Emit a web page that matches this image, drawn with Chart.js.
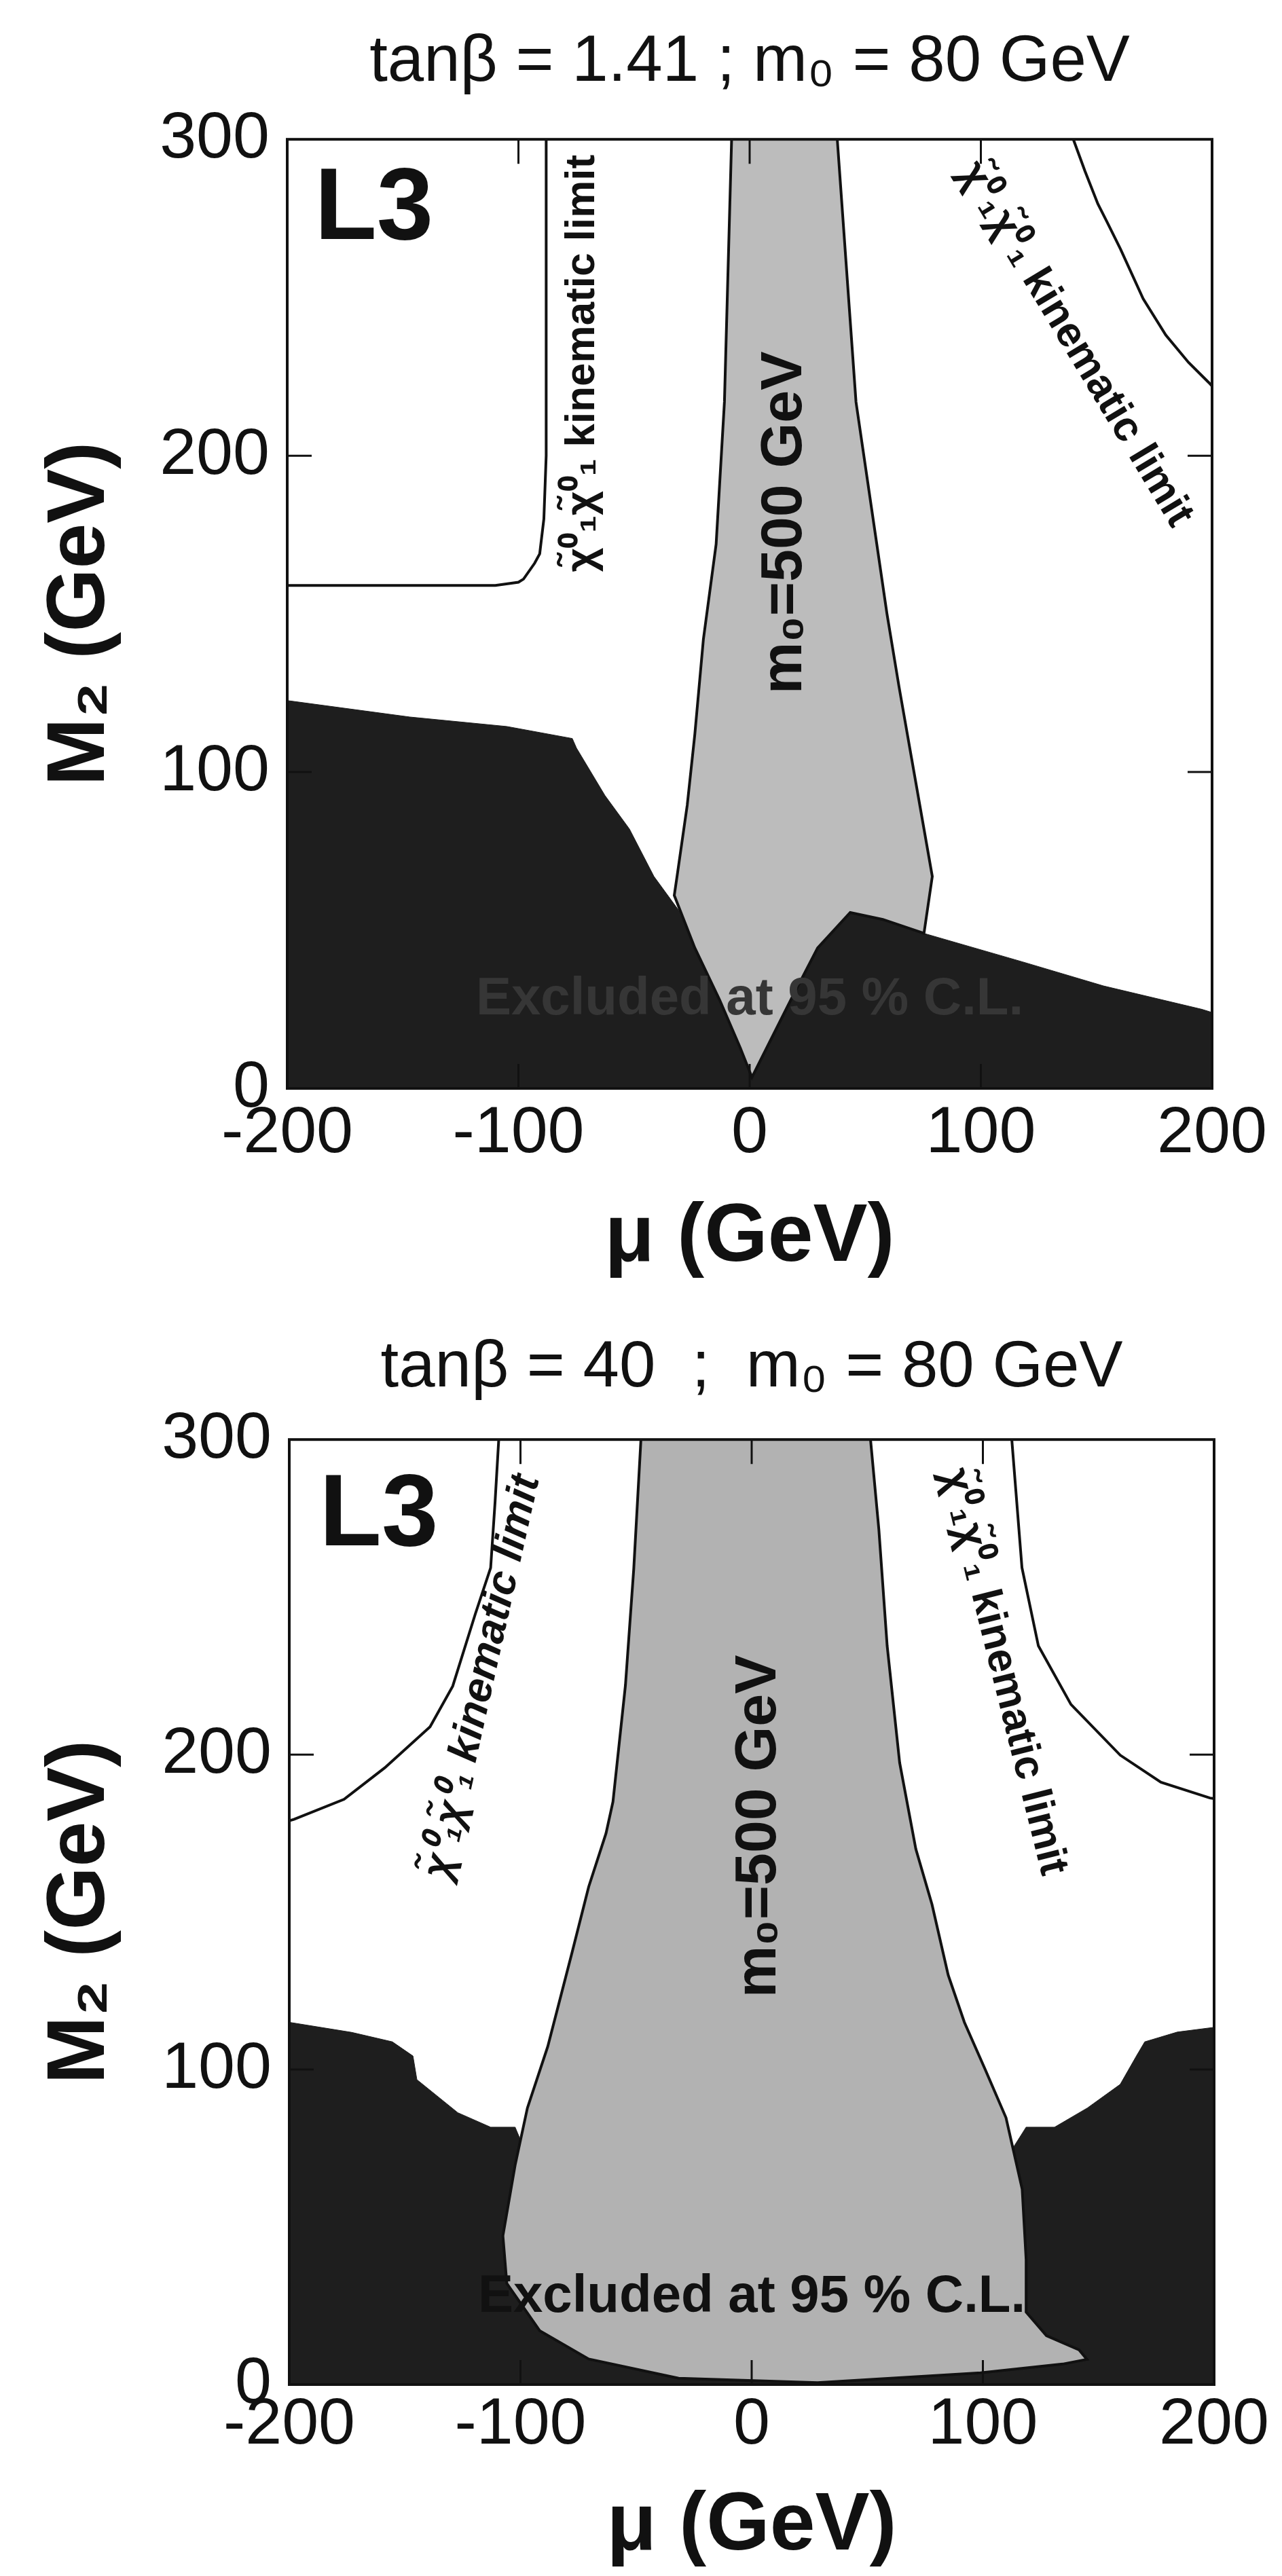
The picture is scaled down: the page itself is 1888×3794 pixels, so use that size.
<!DOCTYPE html>
<html>
<head>
<meta charset="utf-8">
<title>L3 exclusion in the M2 - mu plane</title>
<script src="https://cdn.jsdelivr.net/npm/chart.js@4.4.1/dist/chart.umd.min.js"></script>
<style>
  html, body { margin: 0; padding: 0; background: #fff; }
  body { width: 1888px; height: 3794px; position: relative; overflow: hidden; }
  .panel { position: absolute; left: 0; }
</style>
</head>
<body>
<div class="panel" style="top:0"><canvas id="plotLow" width="1888" height="1900"></canvas></div>
<div class="panel" style="top:1900px"><canvas id="plotHigh" width="1888" height="1894"></canvas></div>
<script>
// tick values for both panels
const muTicks = [-200, -100, 0, 100, 200];
const m2Ticks = [0, 100, 200, 300];

// ---- tan(beta) = 1.41 panel (mu and M2 in GeV) ----
// light band, excluded for m0 = 500 GeV (outline, clockwise from top left)
const lowBandMu = [-7.8, -10.9, -14.5, -20, -23.7, -27, -31.4, -32.6, -23.7, -13, -4, 1, 8.2, 18.8, 29.4, 43.5, 57.6, 75.4, 79, 75.4, 70, 64.6, 59.4, 55, 46, 37.9];
const lowBandM2 = [300, 217, 172, 142, 112, 89.5, 67, 61, 44.4, 28, 12.7, 3.5, 14, 29.4, 44.4, 55.6, 53.4, 49, 67, 82, 104.5, 127, 150, 172, 217, 300];
// dark region, excluded at 95% CL (upper edge)
const lowExclMu = [-200, -147, -105, -76.7, -74.9, -62.6, -52, -41.4, -30.8, -23.7, -13, -4, 1, 8.2, 18.8, 29.4, 43.5, 57.6, 75.4, 118, 153, 195.6, 200];
const lowExclM2 = [122.6, 117.4, 114.4, 110.6, 107.6, 92.6, 82, 67, 56.4, 44.4, 28, 12.7, 3.5, 14, 29.4, 44.4, 56.4, 53.5, 49, 40, 32.4, 25, 24];
// neutralino pair kinematic limits
const lowKinLeftMu = [-200, -110, -100, -97.8, -93, -90.8, -89, -88, -88];
const lowKinLeftM2 = [159, 159, 160, 161, 166, 169, 180, 200, 300];
const lowKinRightMu = [140, 145, 150.6, 154.5, 160.4, 170.2, 180, 189.8, 198.6, 200];
const lowKinRightM2 = [300, 290, 279.6, 274, 265.3, 249.6, 238.1, 229.5, 223.1, 222];

// ---- tan(beta) = 40 panel ----
const highBandMu = [-47.9, -51, -54.6, -60, -63, -70.5, -77.6, -88.2, -97, -102.3, -107.6, -105.9, -91.7, -70.5, -31.6, 28.5, 99, 134.5, 145, 141.6, 127.5, 118.7, 118.7, 117, 110, 101, 92, 85, 78, 71, 64, 58.6, 55, 51.4];
const highBandM2 = [300, 259, 222, 185, 175, 158, 137.4, 107.3, 87.8, 69.7, 47.2, 32.1, 17.1, 8.1, 2, 0.6, 3.7, 6.5, 8, 11, 15.5, 23, 39.7, 62, 84.7, 100, 115, 130, 152.4, 170, 197.4, 234.5, 271.5, 300];
const highExclMu = [-200, -173, -155.4, -146.5, -144.8, -127.1, -112.9, -102.3, -90, 0, 100, 118.7, 131, 145.2, 159.4, 166.4, 170, 184.1, 200];
const highExclM2 = [115, 111.8, 108.8, 104.3, 96.8, 86.3, 81.7, 81.7, 60, 50, 60, 81.7, 81.7, 87.8, 95.3, 104.3, 108.8, 111.9, 113.4];
const highKinLeftMu = [-200, -198, -176.3, -158.7, -139.1, -129.3, -119.5, -112.9, -111, -109.4];
const highKinLeftM2 = [179, 179.4, 185.8, 195.8, 208.8, 221.7, 244.7, 259.3, 280, 300];
const highKinRightMu = [112.5, 116.9, 124, 138.1, 159.4, 177, 198.2, 200];
const highKinRightM2 = [300, 259.3, 234.5, 215.9, 199.8, 191.2, 186.2, 186];

// zip two arrays into scatter points
function pts(mu, m2) {
    return mu.map((v, i) => ({x: v, y: m2[i]}));
}

const chiText = 'χ\u0303\u2070\u2081χ\u0303\u2070\u2081 kinematic limit';
const sans = "'Liberation Sans', Arial, sans-serif";

// frame, inward tick marks and the text inside the plot
const frameAndLabels = {
    id: 'frameAndLabels',
    afterDatasetsDraw(chart, args, opts) {
        const {ctx, chartArea: a, scales: {x, y}} = chart;
        ctx.save();
        ctx.strokeStyle = '#111';
        ctx.lineWidth = 3;
        ctx.beginPath();
        x.ticks.forEach(t => {
            if (t.value <= x.min || t.value >= x.max) return;
            const px = x.getPixelForValue(t.value);
            ctx.moveTo(px, a.top); ctx.lineTo(px, a.top + 36);
            ctx.moveTo(px, a.bottom); ctx.lineTo(px, a.bottom - 36);
        });
        y.ticks.forEach(t => {
            if (t.value <= y.min || t.value >= y.max) return;
            const py = y.getPixelForValue(t.value);
            ctx.moveTo(a.left, py); ctx.lineTo(a.left + 36, py);
            ctx.moveTo(a.right, py); ctx.lineTo(a.right - 36, py);
        });
        ctx.stroke();
        ctx.lineWidth = 4;
        ctx.strokeRect(a.left, a.top, a.right - a.left, a.bottom - a.top);

        (opts.labels || []).forEach(l => {
            ctx.save();
            ctx.translate(x.getPixelForValue(l.mu), y.getPixelForValue(l.m2));
            ctx.rotate((l.rot || 0) * Math.PI / 180);
            ctx.font = l.font;
            ctx.fillStyle = l.color || '#111';
            ctx.textAlign = l.align || 'center';
            ctx.textBaseline = l.baseline || 'middle';
            ctx.fillText(l.text, 0, 0);
            ctx.restore();
        });
        ctx.restore();
    }
};

// builds one panel, the geometry numbers just place the plot box like the scan
function makePanel(canvasId, cfg) {
    const ctx = document.getElementById(canvasId).getContext('2d');
    return new Chart(ctx, {
        type: 'scatter',
        data: {
            datasets: [
                {
                    label: 'kinematic limit (left)',
                    data: pts(cfg.kinLeftMu, cfg.kinLeftM2),
                    showLine: true, pointRadius: 0, borderColor: '#111', borderWidth: 4,
                    fill: false, order: 0
                },
                {
                    label: 'kinematic limit (right)',
                    data: pts(cfg.kinRightMu, cfg.kinRightM2),
                    showLine: true, pointRadius: 0, borderColor: '#111', borderWidth: 4,
                    fill: false, order: 0
                },
                {
                    label: 'm0 = 500 GeV',
                    data: pts(cfg.bandMu, cfg.bandM2),
                    showLine: true, pointRadius: 0, borderColor: '#111', borderWidth: 4,
                    backgroundColor: cfg.bandColor, fill: 'shape', order: 1
                },
                {
                    label: 'excluded at 95% C.L.',
                    data: pts(cfg.exclMu, cfg.exclM2),
                    showLine: true, pointRadius: 0, borderColor: '#1e1e1e', borderWidth: 1,
                    backgroundColor: '#1e1e1e', fill: 'origin', order: 2
                }
            ]
        },
        options: {
            responsive: false,
            animation: false,
            devicePixelRatio: 1,
            layout: {padding: {left: 0, right: cfg.padRight, top: 0, bottom: 0}},
            plugins: {
                legend: {display: false},
                tooltip: {enabled: false},
                title: {
                    display: true,
                    text: cfg.title,
                    fullSize: false,
                    color: '#111',
                    font: {family: sans, size: 96, weight: 'normal'},
                    padding: {top: cfg.titleTop, bottom: cfg.titleBottom}
                },
                frameAndLabels: {labels: cfg.labels}
            },
            scales: {
                x: {
                    type: 'linear', min: -200, max: 200,
                    afterBuildTicks: s => { s.ticks = muTicks.map(v => ({value: v})); },
                    afterFit: s => { s.height = cfg.xHeight; },
                    grid: {display: false, drawTicks: false},
                    border: {display: false},
                    ticks: {color: '#111', padding: cfg.xTickPad, font: {family: sans, size: 97}},
                    title: {
                        display: true, text: 'μ (GeV)', color: '#111',
                        font: {family: sans, size: 120, weight: 'bold'},
                        padding: {top: 0, bottom: cfg.xTitleBottom}
                    }
                },
                y: {
                    type: 'linear', min: 0, max: 300,
                    afterBuildTicks: s => { s.ticks = m2Ticks.map(v => ({value: v})); },
                    afterFit: s => { s.width = cfg.yWidth; },
                    grid: {display: false, drawTicks: false},
                    border: {display: false},
                    ticks: {color: '#111', padding: 26, font: {family: sans, size: 97}},
                    title: {
                        display: true, text: 'M\u2082 (GeV)', color: '#111',
                        font: {family: sans, size: 120, weight: 'bold'},
                        padding: {top: 48, bottom: 0}
                    }
                }
            }
        },
        plugins: [frameAndLabels]
    });
}

makePanel('plotLow', {
    title: 'tanβ = 1.41 ; m\u2080 = 80 GeV',
    bandMu: lowBandMu, bandM2: lowBandM2,
    exclMu: lowExclMu, exclM2: lowExclM2,
    kinLeftMu: lowKinLeftMu, kinLeftM2: lowKinLeftM2,
    kinRightMu: lowKinRightMu, kinRightM2: lowKinRightM2,
    bandColor: '#bcbcbc',
    padRight: 103, yWidth: 423, xHeight: 297,
    titleTop: 35, titleBottom: 55, xTickPad: 9, xTitleBottom: 4,
    labels: [
        {text: 'L3', mu: -188.2, m2: 268.5, align: 'left', baseline: 'alphabetic', font: `bold 150px ${sans}`},
        {text: chiText, mu: -72.2, m2: 229.2, rot: -90, font: `bold 62px ${sans}`},
        {text: chiText, mu: 140.7, m2: 235.2, rot: 59, font: `bold 62px ${sans}`},
        {text: 'm\u2080=500 GeV', mu: 15.3, m2: 178.8, rot: -90, font: `bold 86px ${sans}`},
        {text: 'Excluded at 95 % C.L.', mu: 0, m2: 28, font: `bold 78px ${sans}`, color: '#363636'}
    ]
});

makePanel('plotHigh', {
    title: 'tanβ = 40  ;  m\u2080 = 80 GeV',
    bandMu: highBandMu, bandM2: highBandM2,
    exclMu: highExclMu, exclM2: highExclM2,
    kinLeftMu: highKinLeftMu, kinLeftM2: highKinLeftM2,
    kinRightMu: highKinRightMu, kinRightM2: highKinRightM2,
    bandColor: '#b2b2b2',
    padRight: 100, yWidth: 426, xHeight: 282,
    titleTop: 58, titleBottom: 47, xTickPad: 2, xTitleBottom: 0,
    labels: [
        {text: 'L3', mu: -187, m2: 266.4, align: 'left', baseline: 'alphabetic', font: `bold 150px ${sans}`},
        {text: chiText, mu: -116.3, m2: 224.6, rot: -77.4, font: `italic bold 62px ${sans}`},
        {text: chiText, mu: 108.7, m2: 226.3, rot: 76, font: `bold 62px ${sans}`},
        {text: 'm\u2080=500 GeV', mu: 3.2, m2: 177.2, rot: -90, font: `bold 86px ${sans}`},
        {text: 'Excluded at 95 % C.L.', mu: 0, m2: 27.6, font: `bold 78px ${sans}`, color: '#111'}
    ]
});
</script>
</body>
</html>
